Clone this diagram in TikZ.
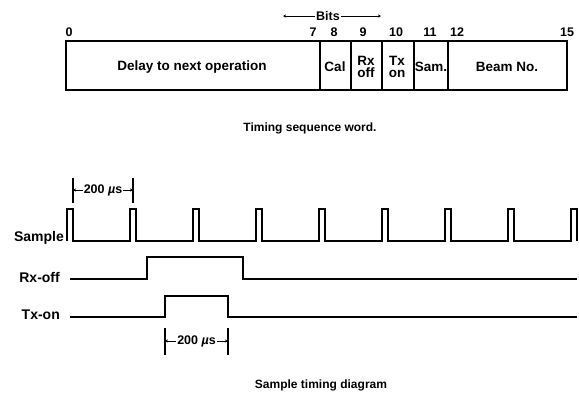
\documentclass[tikz,border=0pt]{standalone}
\usepackage{fontspec}
\setmainfont{Liberation Sans}
\usetikzlibrary{arrows.meta}
\tikzset{
  wordbox/.style={line width=2pt, draw=black},
  bitno/.style={font=\bfseries\fontsize{12.5}{14}\selectfont, inner sep=0pt},
  field/.style={font=\bfseries\fontsize{13.5}{12.5}\selectfont, align=center, inner sep=0pt},
  sig/.style={font=\bfseries\fontsize{14}{16}\selectfont, anchor=east, inner sep=0pt},
  caption/.style={font=\bfseries\fontsize{12}{14}\selectfont, inner sep=0pt},
  dimtxt/.style={font=\bfseries\fontsize{12.5}{14}\selectfont, inner sep=1pt},
  wave/.style={line width=1.8pt, line join=miter},
  tickline/.style={line width=1.5pt},
  dimarrow/.style={-{Stealth[length=3pt,width=3pt]}, line width=0.8pt},
}
\begin{document}
\begin{tikzpicture}[x=1pt,y=-1pt]
\useasboundingbox (0,0) rectangle (579,394);

% timing sequence word
\draw[wordbox] (66,41) rectangle (567,90);
\foreach \x in {320,351,382,414,448}
  \draw[wordbox] (\x,41) -- (\x,90);

\node[field] (delay) at (192,67) {Delay to next operation};
\node[field] (cal) at (335,67) {Cal};
\node[field] (rx) at (366,67) {Rx\\off};
\node[field] (tx) at (397,67) {Tx\\on};
\node[field] (sam) at (431,67) {Sam.};
\node[field] (beam) at (507,67) {Beam No.};

\node[bitno] (b0) at (69,32) {0};
\node[bitno] (b7) at (313,32) {7};
\node[bitno] (b8) at (334,32) {8};
\node[bitno] (b9) at (363,32) {9};
\node[bitno] (b10) at (396,32) {10};
\node[bitno] (b11) at (430,32) {11};
\node[bitno] (b12) at (457,32) {12};
\node[bitno] (b15) at (567,32) {15};

\node[dimtxt] (bits) at (328,16) {Bits};
\coordinate (bitsl) at (283,16);
\coordinate (bitsr) at (381,16);
\draw[dimarrow] (bits.west) -- (bitsl);
\draw[dimarrow] (bits.east) -- (bitsr);

\node[caption] (wordcap) at (310,128) {Timing sequence word.};

% sample timing diagram
\node[sig] (sample) at (64,238) {Sample};
\node[sig] (rxoff) at (60,277) {Rx-off};
\node[sig] (txon) at (60,315) {Tx-on};

\draw[wave] (67,241) -- (67,209) -- (73,209) -- (73,241)
  \foreach \x in {130,193,...,571} { -- (\x,241) -- (\x,209) -- ({\x+6},209) -- ({\x+6},241) };
\draw[wave] (70,279) -- (147,279) -- (147,257) -- (243,257) -- (243,279) -- (577,279);
\draw[wave] (70,317) -- (165,317) -- (165,296) -- (228,296) -- (228,317) -- (577,317);

\draw[tickline] (73,178) -- (73,203);
\draw[tickline] (133,178) -- (133,203);
\node[dimtxt] (per) at (103,190) {200 {\itshape µ}s};
\coordinate (perl) at (73,190);
\coordinate (perr) at (133,190);
\draw[dimarrow] (per.west) -- (perl);
\draw[dimarrow] (per.east) -- (perr);

\draw[tickline] (165,328) -- (165,355);
\draw[tickline] (228,328) -- (228,355);
\node[dimtxt] (txlen) at (196.5,341) {200 {\itshape µ}s};
\coordinate (txl) at (165,341);
\coordinate (txr) at (228,341);
\draw[dimarrow] (txlen.west) -- (txl);
\draw[dimarrow] (txlen.east) -- (txr);

\node[caption] (diagcap) at (321,385) {Sample timing diagram};
\end{tikzpicture}
\end{document}
